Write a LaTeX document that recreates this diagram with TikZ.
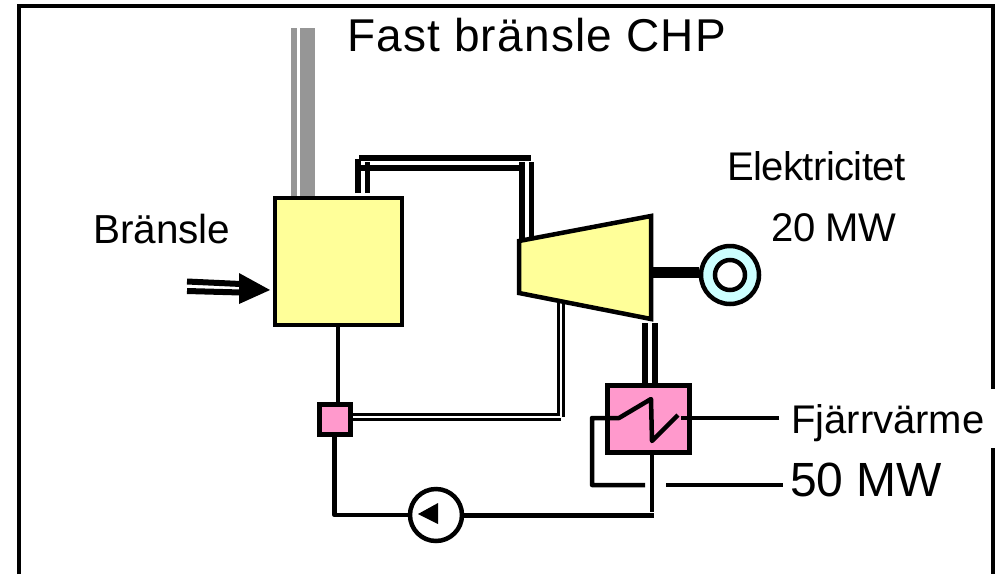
\documentclass[tikz,border=0pt]{standalone}
\usepackage{fontspec}
\setmainfont{Liberation Sans}
\definecolor{unityellow}{HTML}{FFFF99}
\definecolor{unitpink}{HTML}{FF99CC}
\definecolor{gencyan}{HTML}{CCFFFF}
\definecolor{stackgrey}{HTML}{969696}
\tikzset{
  unitbox/.style={draw=black,line width=4.5pt,inner sep=0pt},
  round unit/.style={circle,draw=black,line width=4.5pt,inner sep=0pt},
  wire/.style={draw=black,line width=4.5pt,line join=round},
  steam/.style={draw=black,line width=6pt},
  thin pipe/.style={draw=black,line width=3pt},
  label text/.style={anchor=base west,inner sep=0pt,text=black},
}
\newcommand{\fs}[1]{\fontsize{#1pt}{#1pt}\selectfont}
\begin{document}
\begin{tikzpicture}[x=1pt,y=-1pt]
\path[use as bounding box,fill=white] (0,0) rectangle (998,574);
% frame
\coordinate (fbl) at (19,574);
\coordinate (ftl) at (19,6);
\coordinate (ftr) at (993,6);
\coordinate (fr1) at (993,389);
\coordinate (fr2) at (993,448);
\coordinate (fbr) at (993,574);
\draw[line width=4.5pt,line join=miter] (fbl) -- (ftl) -- (ftr) -- (fr1);
\draw[line width=4.5pt] (fr2) -- (fbr);
% stack
\coordinate (s1t) at (294,28); \coordinate (s1b) at (294,197);
\coordinate (s2t) at (307.3,28); \coordinate (s2b) at (307.3,197);
\draw[stackgrey,line width=6pt] (s1t) -- (s1b);
\draw[stackgrey,line width=14.5pt] (s2t) -- (s2b);
% main units
\node[unitbox,fill=unityellow,minimum width=127pt,minimum height=127pt] (boiler) at (338.5,261.5) {};
\node[unitbox,line width=5pt,fill=unitpink,minimum width=31pt,minimum height=30pt] (mixer) at (334.5,419) {};
\node[unitbox,line width=5pt,fill=unitpink,minimum width=82pt,minimum height=67pt] (cond) at (648,418.5) {};
\node[round unit,fill=white,minimum size=52pt] (pump) at (436,515) {};
% steam pipes
\coordinate (a1) at (358,193); \coordinate (a2) at (358,159);
\coordinate (a3) at (359,158); \coordinate (a4) at (531,158);
\coordinate (b1) at (367.5,193); \coordinate (b2) at (367.5,162);
\coordinate (c1) at (361,168); \coordinate (c2) at (525,168);
\coordinate (d1) at (522,162); \coordinate (d2) at (522,240);
\coordinate (e1) at (531.5,162); \coordinate (e2) at (531.5,238);
\draw[steam] (a1) -- (a2);
\draw[steam,line width=5pt] (b1) -- (b2);
\draw[steam] (a3) -- (a4);
\draw[steam] (c1) -- (c2);
\draw[steam] (d1) -- (d2);
\draw[steam,line width=5pt] (e1) -- (e2);
% bleed pipe
\coordinate (f1) at (558.5,300); \coordinate (f2) at (558.5,416);
\coordinate (g1) at (563.5,300); \coordinate (g2) at (563.5,417);
\coordinate (h2) at (558,414.5); \coordinate (i2) at (561,419.5);
\draw[thin pipe] (f1) -- (f2);
\draw[thin pipe] (g1) -- (g2);
\draw[thin pipe] (mixer.east |- h2) -- (h2);
\draw[thin pipe] (mixer.east |- i2) -- (i2);
% turbine
\coordinate (t1) at (519,241); \coordinate (t2) at (651,216);
\coordinate (t3) at (651,319); \coordinate (t4) at (519,293);
\draw[fill=unityellow,line width=4.5pt,line join=miter] (t1) -- (t2) -- (t3) -- (t4) -- cycle;
% generator
\node[round unit,fill=gencyan,minimum size=58pt] (gen) at (730,275) {};
\node[round unit,fill=white,minimum size=30pt] (genin) at (gen.center) {};
\coordinate (shaft) at (651,272.5);
\draw[line width=11pt] (shaft) -- (shaft -| gen.west);
% turbine to condenser
\coordinate (j1) at (645,323); \coordinate (k1) at (655,323);
\draw[steam] (j1) -- (j1 |- cond.north);
\draw[steam] (k1) -- (k1 |- cond.north);
% wires
\draw[wire] (338,327) -- (338,402);
\draw[wire] (mixer.south) |- (pump.west);
\coordinate (cb) at (652,455); \coordinate (cc) at (652,512);
\coordinate (cd) at (653.5,515.5);
\draw[wire] (cb) -- (cc);
\draw[wire] (pump.east |- cd) -- (cd);
% condenser coil
\coordinate (z0) at (645,485); \coordinate (z1) at (592,485); \coordinate (z2) at (592,418);
\coordinate (z3) at (619,418); \coordinate (z4) at (651,399); \coordinate (z5) at (652,441);
\coordinate (z6) at (678,415);
\draw[wire] (z0) -- (z1) -- (z2) -- (z3) -- (z4) -- (z5) -- (z6);
\coordinate (r1) at (681,418); \coordinate (r2) at (779,418);
\coordinate (r3) at (666,485); \coordinate (r4) at (783,485);
\draw[wire] (r1) -- (r2);
\draw[wire] (r3) -- (r4);
% pump arrow
\coordinate (pa) at (418,514); \coordinate (pb) at (438,503); \coordinate (pc) at (438,524);
\fill (pa) -- (pb) -- (pc) -- cycle;
% fuel arrow
\coordinate (u1) at (187,281.5); \coordinate (u2) at (241,284);
\coordinate (v1) at (187,291); \coordinate (v2) at (241,292.5);
\coordinate (w0) at (270,290); \coordinate (w1) at (239,273); \coordinate (w2) at (239,304);
\draw[line width=6pt] (u1) -- (u2);
\draw[line width=6pt] (v1) -- (v2);
\fill (w0) -- (w1) -- (w2) -- cycle;
% labels
\node[label text] (title) at (347,51) {\fs{46}\addfontfeatures{LetterSpace=2.6}Fast bränsle CHP};
\node[label text] (fuel) at (93,243) {\fs{40.5}Bränsle};
\node[label text] (el) at (727,180) {\fs{40}\addfontfeatures{LetterSpace=-1.4}Elektricitet};
\node[label text] (elmw) at (771,241.5) {\fs{40}\addfontfeatures{LetterSpace=-1}20 MW};
\node[label text] (heat) at (791,433) {\fs{40}Fjärrvärme};
\node[label text] (heatmw) at (790,496) {\fs{48}50 MW};
\end{tikzpicture}
\end{document}
